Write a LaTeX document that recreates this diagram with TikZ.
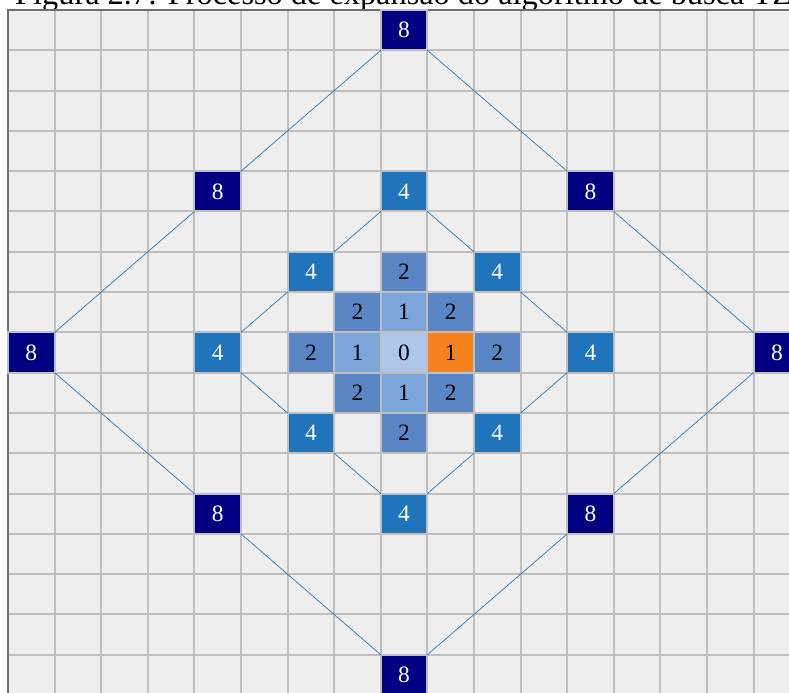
\documentclass[tikz,border=0pt]{standalone}
\usepackage{fontspec}
\setmainfont{Liberation Serif}
\definecolor{cellbg}{HTML}{EEEEEE}
\definecolor{gridcol}{HTML}{BFBFBF}
\definecolor{framecol}{HTML}{6E6E6E}
\definecolor{navyviii}{HTML}{000080}
\definecolor{blueiv}{HTML}{1F74BC}
\definecolor{blueii}{HTML}{5B86C6}
\definecolor{bluei}{HTML}{7CA5D9}
\definecolor{blueo}{HTML}{AEC6E9}
\definecolor{bestcol}{HTML}{F5821F}
\definecolor{linkcol}{HTML}{2E75B6}
\begin{document}
\begin{tikzpicture}[x=1.398cm,y=-1.209cm,
    cell/.style={rectangle,inner sep=0pt,outer sep=0pt,minimum width=1.398cm,minimum height=1.209cm,
      draw=gridcol,line width=1.7pt,font=\fontsize{20}{24}\selectfont},
    dist8/.style={cell,fill=navyviii,text=white},
    dist4/.style={cell,fill=blueiv,text=white},
    dist2/.style={cell,fill=blueii},
    dist1/.style={cell,fill=bluei},
    dist0/.style={cell,fill=blueo},
    best/.style={cell,fill=bestcol},
    gridline/.style={gridcol,line width=1.7pt},
    hop/.style={draw=linkcol,line width=0.6pt}]
    \useasboundingbox (-0.1717,-0.2481) rectangle (16.760,16.948);
    \node[anchor=base west,inner sep=0pt,font=\fontsize{27.6}{30}\selectfont] (caption) at (0.15,-0.124)
      {Figura 2.7: Processo de expansão do algoritmo de busca TZS};
    \fill[cellbg] (0,0) rectangle (17,17);
    \foreach \i in {0,...,17} {
      \draw[gridline] (\i,0) -- (\i,17);
      \draw[gridline] (0,\i) -- (17,\i);
    }
    \draw[framecol,line width=2.4pt] (0,17) -- (0,0) -- (17,0);
    \node[dist8] (eight-n) at (8.5,0.5) {8};
    \node[dist8] (eight-ne) at (12.5,4.5) {8};
    \node[dist8] (eight-e) at (16.5,8.5) {8};
    \node[dist8] (eight-se) at (12.5,12.5) {8};
    \node[dist8] (eight-s) at (8.5,16.5) {8};
    \node[dist8] (eight-sw) at (4.5,12.5) {8};
    \node[dist8] (eight-w) at (0.5,8.5) {8};
    \node[dist8] (eight-nw) at (4.5,4.5) {8};
    \node[dist4] (four-n) at (8.5,4.5) {4};
    \node[dist4] (four-ne) at (10.5,6.5) {4};
    \node[dist4] (four-e) at (12.5,8.5) {4};
    \node[dist4] (four-se) at (10.5,10.5) {4};
    \node[dist4] (four-s) at (8.5,12.5) {4};
    \node[dist4] (four-sw) at (6.5,10.5) {4};
    \node[dist4] (four-w) at (4.5,8.5) {4};
    \node[dist4] (four-nw) at (6.5,6.5) {4};
    \node[dist2] (two-n) at (8.5,6.5) {2};
    \node[dist2] (two-ne) at (9.5,7.5) {2};
    \node[dist2] (two-e) at (10.5,8.5) {2};
    \node[dist2] (two-se) at (9.5,9.5) {2};
    \node[dist2] (two-s) at (8.5,10.5) {2};
    \node[dist2] (two-sw) at (7.5,9.5) {2};
    \node[dist2] (two-w) at (6.5,8.5) {2};
    \node[dist2] (two-nw) at (7.5,7.5) {2};
    \node[dist1] (one-n) at (8.5,7.5) {1};
    \node[dist1] (one-w) at (7.5,8.5) {1};
    \node[best] (one-e) at (9.5,8.5) {1};
    \node[dist1] (one-s) at (8.5,9.5) {1};
    \node[dist0] (zero) at (8.5,8.5) {0};
    \draw[hop] (eight-n.south east) -- (eight-ne.north west);
    \draw[hop] (eight-ne.south east) -- (eight-e.north west);
    \draw[hop] (eight-e.south west) -- (eight-se.north east);
    \draw[hop] (eight-se.south west) -- (eight-s.north east);
    \draw[hop] (eight-s.north west) -- (eight-sw.south east);
    \draw[hop] (eight-sw.north west) -- (eight-w.south east);
    \draw[hop] (eight-w.north east) -- (eight-nw.south west);
    \draw[hop] (eight-nw.north east) -- (eight-n.south west);
    \draw[hop] (four-n.south east) -- (four-ne.north west);
    \draw[hop] (four-ne.south east) -- (four-e.north west);
    \draw[hop] (four-e.south west) -- (four-se.north east);
    \draw[hop] (four-se.south west) -- (four-s.north east);
    \draw[hop] (four-s.north west) -- (four-sw.south east);
    \draw[hop] (four-sw.north west) -- (four-w.south east);
    \draw[hop] (four-w.north east) -- (four-nw.south west);
    \draw[hop] (four-nw.north east) -- (four-n.south west);
\end{tikzpicture}
\end{document}
